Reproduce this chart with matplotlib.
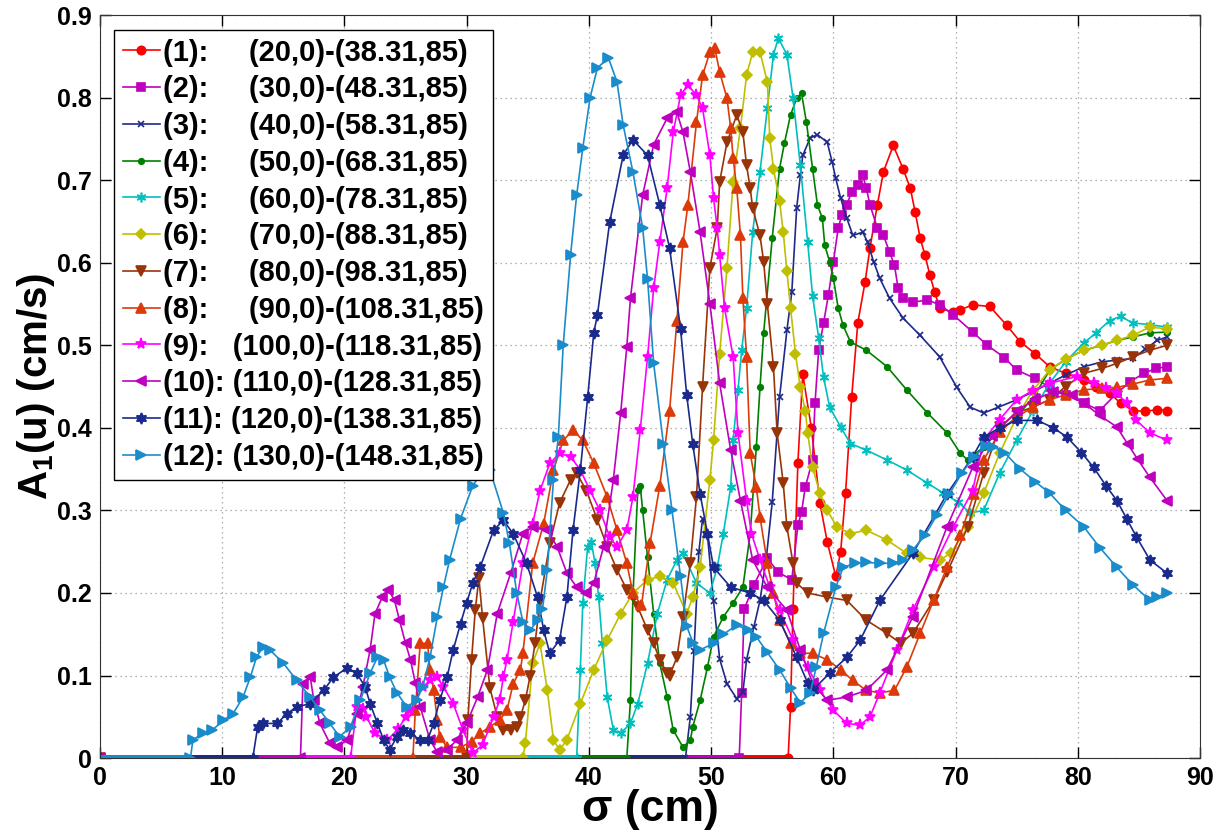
import matplotlib
matplotlib.use('Agg')
import matplotlib.pyplot as plt

plt.rcParams['font.family'] = ['Liberation Sans', 'DejaVu Sans']
plt.rcParams['font.weight'] = 'bold'
plt.rcParams['mathtext.fontset'] = 'custom'
plt.rcParams['mathtext.rm'] = 'Liberation Sans:bold'
plt.rcParams['mathtext.bf'] = 'Liberation Sans:bold'
plt.rcParams['mathtext.default'] = 'bf'

# sigma (cm) / A1 (cm/s), one pair per segment (first two points = zero stretch)
s1 = [0, 56.3, 56.5, 56.7, 57.1, 57.5, 58.2, 58.9, 59.5, 60.2, 60.6, 61.0, 61.5, 62.0, 62.6, 63.0, 63.6,
      64.1, 64.9, 65.7, 66.3, 66.7, 67.1, 67.5, 67.9, 68.3, 68.7, 69.8, 70.4, 71.4, 72.8, 74.2, 75.3,
      76.5, 77.7, 79.0, 80.5, 81.5, 82.6, 83.5, 84.5, 85.5, 86.5, 87.3]
a1 = [0, 0, 0.062, 0.181, 0.358, 0.465, 0.40, 0.309, 0.262, 0.22, 0.25, 0.321, 0.437, 0.527, 0.577, 0.618,
      0.67, 0.71, 0.742, 0.714, 0.69, 0.661, 0.63, 0.609, 0.585, 0.564, 0.545, 0.54, 0.543, 0.549, 0.547,
      0.524, 0.504, 0.49, 0.474, 0.466, 0.458, 0.45, 0.442, 0.43, 0.421, 0.42, 0.422, 0.421]

s2 = [0, 52.3, 52.5, 52.7, 53.5, 54.6, 55.5, 56.6, 57.1, 57.4, 57.7, 58.3, 58.5, 58.8, 59.2, 59.6, 60.0,
      60.4, 60.7, 61.1, 61.5, 62.0, 62.4, 62.7, 63.0, 63.6, 64.1, 64.6, 65.0, 65.3, 65.7, 66.5, 67.7,
      68.7, 69.8, 71.4, 72.6, 74.0, 75.0, 76.5, 77.7, 79.0, 80.5, 81.8, 83.2, 84.3, 85.4, 86.4, 87.3]
a2 = [0, 0, 0.079, 0.18, 0.21, 0.242, 0.225, 0.216, 0.282, 0.298, 0.328, 0.361, 0.43, 0.494, 0.527,
      0.561, 0.601, 0.642, 0.658, 0.67, 0.686, 0.694, 0.706, 0.69, 0.67, 0.642, 0.633, 0.613, 0.597,
      0.569, 0.557, 0.552, 0.555, 0.549, 0.537, 0.516, 0.5, 0.485, 0.47, 0.46, 0.449, 0.44, 0.43, 0.421,
      0.442, 0.456, 0.466, 0.472, 0.474]

s3 = [0, 47.9, 48.3, 48.6, 49.0, 49.3, 49.7, 50.2, 50.7, 51.3, 52.1, 52.6, 52.9, 53.5, 54.0, 54.5, 55.0,
      55.6, 56.2, 56.6, 57.0, 57.3, 57.5, 58.1, 58.7, 59.5, 59.9, 60.2, 60.6, 61.1, 61.6, 62.4, 62.8,
      63.3, 63.8, 64.6, 65.7, 67.1, 68.7, 70.1, 71.2, 72.3, 73.5, 75.0, 76.5, 77.7, 79.0, 80.5, 82.0,
      83.2, 84.5, 85.5, 86.5, 87.3]
a3 = [0, 0, 0.05, 0.13, 0.25, 0.29, 0.27, 0.19, 0.12, 0.09, 0.072, 0.08, 0.119, 0.159, 0.191, 0.24,
      0.31, 0.437, 0.518, 0.564, 0.666, 0.706, 0.73, 0.751, 0.755, 0.746, 0.722, 0.702, 0.678, 0.654,
      0.633, 0.637, 0.625, 0.601, 0.581, 0.557, 0.533, 0.512, 0.486, 0.449, 0.425, 0.418, 0.425, 0.434,
      0.445, 0.454, 0.464, 0.474, 0.48, 0.482, 0.484, 0.495, 0.506, 0.51]

s4 = [0, 43.1, 43.4, 43.6, 44.0, 44.2, 44.4, 44.8, 45.3, 45.8, 46.4, 46.9, 47.7, 48.3, 48.5, 49.1, 49.7,
      50.2, 51.0, 51.8, 52.6, 53.2, 53.7, 54.0, 54.3, 55.0, 55.6, 56.0, 56.5, 57.0, 57.4, 57.8, 58.3,
      58.7, 59.1, 59.3, 59.7, 60.0, 60.4, 60.8, 61.4, 62.7, 64.4, 66.0, 67.7, 69.3, 70.4, 71.0, 72.3,
      73.5, 75.0, 76.5, 77.7, 79.0, 80.5, 82.0, 83.2, 84.5, 85.9, 87.3]
a4 = [0, 0, 0.07, 0.195, 0.325, 0.33, 0.3, 0.243, 0.175, 0.115, 0.074, 0.034, 0.013, 0.022, 0.038, 0.07,
      0.11, 0.147, 0.171, 0.188, 0.207, 0.272, 0.377, 0.449, 0.515, 0.63, 0.714, 0.745, 0.779, 0.799,
      0.805, 0.77, 0.714, 0.67, 0.654, 0.621, 0.601, 0.581, 0.545, 0.524, 0.504, 0.494, 0.474, 0.446,
      0.418, 0.394, 0.369, 0.361, 0.377, 0.395, 0.413, 0.44, 0.47, 0.483, 0.494, 0.5, 0.506, 0.51,
      0.515, 0.516]

s5 = [0, 39.0, 39.3, 39.5, 39.9, 40.2, 40.5, 40.8, 41.1, 41.5, 42.0, 42.6, 43.4, 44.0, 44.8, 45.6, 46.4,
      47.2, 47.7, 48.8, 49.9, 50.5, 51.0, 51.6, 51.8, 52.2, 52.5, 52.9, 53.4, 54.0, 54.6, 55.1, 55.5,
      56.2, 56.7, 57.3, 57.9, 58.3, 58.8, 59.2, 59.7, 60.6, 61.4, 62.7, 64.4, 66.0, 67.7, 69.0, 70.2,
      71.2, 72.3, 73.6, 75.0, 76.3, 77.7, 79.0, 80.5, 81.5, 82.6, 83.5, 84.5, 85.9, 87.3]
a5 = [0, 0, 0.107, 0.188, 0.256, 0.262, 0.236, 0.195, 0.139, 0.074, 0.034, 0.03, 0.042, 0.066, 0.115,
      0.175, 0.216, 0.24, 0.248, 0.212, 0.2, 0.231, 0.272, 0.328, 0.385, 0.446, 0.494, 0.545, 0.637,
      0.71, 0.787, 0.852, 0.872, 0.852, 0.8, 0.718, 0.625, 0.56, 0.509, 0.461, 0.425, 0.401, 0.381,
      0.373, 0.361, 0.349, 0.333, 0.321, 0.31, 0.297, 0.3, 0.345, 0.385, 0.42, 0.454, 0.48, 0.503,
      0.515, 0.53, 0.535, 0.527, 0.525, 0.522]

s6 = [0, 34.6, 34.8, 35.4, 36.0, 36.6, 37.1, 37.6, 38.2, 39.3, 40.4, 41.5, 42.6, 43.6, 44.8, 45.8, 46.9,
      48.0, 48.5, 49.1, 49.9, 50.2, 50.7, 51.3, 51.8, 52.4, 52.9, 53.4, 54.0, 54.6, 54.8, 55.1, 55.6,
      55.9, 56.2, 56.5, 56.9, 57.3, 57.7, 57.9, 58.3, 58.9, 59.5, 60.3, 61.4, 62.7, 64.4, 66.0, 67.1,
      68.7, 69.6, 71.0, 72.3, 73.6, 75.0, 76.3, 77.7, 79.0, 80.5, 82.0, 83.2, 84.5, 85.9, 87.3]
a6 = [0, 0, 0.018, 0.115, 0.139, 0.082, 0.022, 0.01, 0.022, 0.066, 0.107, 0.143, 0.175, 0.2, 0.216,
      0.22, 0.212, 0.175, 0.195, 0.231, 0.337, 0.385, 0.49, 0.594, 0.698, 0.763, 0.827, 0.855, 0.855,
      0.819, 0.751, 0.714, 0.675, 0.637, 0.59, 0.545, 0.49, 0.449, 0.421, 0.394, 0.352, 0.321, 0.3,
      0.28, 0.272, 0.276, 0.264, 0.248, 0.243, 0.24, 0.248, 0.28, 0.321, 0.369, 0.413, 0.445, 0.47,
      0.483, 0.494, 0.5, 0.506, 0.512, 0.522, 0.52]

s7 = [0, 30.0, 30.1, 30.4, 30.7, 31.0, 31.3, 31.9, 32.5, 33.0, 33.6, 34.1, 34.4, 34.8, 35.2, 35.6, 36.0,
      36.8, 37.6, 38.5, 39.0, 39.8, 40.7, 41.5, 42.3, 43.1, 44.0, 44.8, 45.3, 45.8, 46.4, 46.6, 47.2,
      47.7, 48.3, 48.8, 49.3, 49.9, 50.5, 50.7, 51.3, 52.1, 52.6, 52.9, 53.2, 53.4, 54.0, 54.3, 54.6,
      55.1, 55.4, 55.9, 56.2, 56.7, 57.0, 57.9, 59.5, 61.1, 62.7, 64.4, 65.5, 66.5, 68.2, 69.3, 71.0,
      72.3, 73.6, 75.0, 76.3, 77.7, 79.0, 80.5, 82.0, 83.2, 84.5, 85.9, 87.3]
a7 = [0, 0, 0.046, 0.119, 0.179, 0.218, 0.17, 0.085, 0.05, 0.034, 0.034, 0.038, 0.05, 0.07, 0.1, 0.14,
      0.19, 0.26, 0.309, 0.337, 0.345, 0.324, 0.288, 0.256, 0.228, 0.204, 0.183, 0.155, 0.139, 0.119,
      0.103, 0.1, 0.122, 0.171, 0.236, 0.316, 0.45, 0.594, 0.642, 0.698, 0.746, 0.779, 0.758, 0.718,
      0.69, 0.666, 0.633, 0.601, 0.55, 0.474, 0.394, 0.333, 0.28, 0.236, 0.212, 0.2, 0.195, 0.191,
      0.167, 0.151, 0.139, 0.151, 0.191, 0.225, 0.28, 0.345, 0.401, 0.418, 0.425, 0.434, 0.45, 0.466,
      0.472, 0.478, 0.486, 0.494, 0.5]

s8 = [0, 25.6, 25.8, 26.2, 26.8, 27.0, 27.3, 27.6, 27.8, 28.4, 29.5, 30.4, 31.1, 31.9, 32.7, 33.3, 33.8,
      34.4, 34.6, 35.4, 36.3, 37.1, 37.9, 38.7, 39.5, 40.4, 41.5, 42.3, 43.1, 43.6, 44.3, 45.0, 45.8,
      46.6, 47.2, 47.7, 48.1, 48.8, 49.3, 49.9, 50.3, 50.7, 51.3, 51.6, 51.8, 52.1, 52.4, 52.6, 52.9,
      53.2, 53.7, 54.0, 54.6, 55.1, 55.6, 56.5, 57.3, 58.3, 59.5, 60.6, 61.6, 62.7, 63.8, 65.0, 66.0,
      67.1, 68.2, 69.3, 70.4, 71.5, 72.3, 73.6, 75.0, 76.3, 77.7, 79.0, 80.5, 82.0, 83.2, 84.5, 85.9,
      87.3]
a8 = [0, 0, 0.058, 0.139, 0.139, 0.107, 0.082, 0.046, 0.026, 0.013, 0.013, 0.02, 0.03, 0.038, 0.046,
      0.058, 0.09, 0.107, 0.127, 0.236, 0.284, 0.349, 0.385, 0.397, 0.385, 0.357, 0.316, 0.276, 0.236,
      0.2, 0.185, 0.26, 0.33, 0.42, 0.53, 0.625, 0.67, 0.77, 0.827, 0.855, 0.86, 0.831, 0.799, 0.763,
      0.727, 0.69, 0.633, 0.557, 0.486, 0.369, 0.328, 0.292, 0.236, 0.2, 0.167, 0.139, 0.127, 0.127,
      0.119, 0.107, 0.094, 0.082, 0.079, 0.082, 0.11, 0.151, 0.191, 0.231, 0.27, 0.32, 0.361, 0.395,
      0.413, 0.425, 0.434, 0.44, 0.446, 0.448, 0.449, 0.453, 0.458, 0.46]

s9 = [0, 20.5, 21.0, 21.5, 21.8, 22.5, 23.5, 24.4, 25.0, 25.4, 26.4, 27.0, 27.6, 28.1, 28.9, 29.7, 30.5,
      31.3, 32.2, 32.7, 33.0, 33.3, 33.8, 34.6, 35.4, 36.0, 36.8, 37.6, 38.5, 39.3, 40.1, 40.9, 41.7,
      42.3, 43.1, 43.6, 44.2, 44.8, 45.3, 45.8, 46.4, 46.9, 47.5, 48.1, 48.8, 49.3, 49.9, 50.2, 50.5,
      50.7, 51.1, 51.8, 52.2, 52.9, 53.3, 54.0, 54.8, 55.6, 56.7, 57.9, 58.9, 60.0, 61.1, 62.2, 63.0,
      63.8, 65.2, 66.5, 68.2, 69.8, 71.4, 72.3, 73.6, 75.0, 76.3, 77.7, 79.9, 81.3, 82.3, 83.2, 84.0,
      84.8, 85.9, 87.3]
a9 = [0, 0, 0.062, 0.06, 0.05, 0.03, 0.022, 0.035, 0.05, 0.058, 0.086, 0.094, 0.098, 0.086, 0.066,
      0.034, 0.006, 0.016, 0.05, 0.07, 0.098, 0.119, 0.165, 0.236, 0.284, 0.324, 0.357, 0.369, 0.365,
      0.349, 0.324, 0.3, 0.268, 0.256, 0.276, 0.316, 0.397, 0.486, 0.569, 0.625, 0.69, 0.758, 0.803,
      0.815, 0.803, 0.787, 0.73, 0.678, 0.642, 0.609, 0.545, 0.486, 0.394, 0.312, 0.272, 0.24, 0.207,
      0.179, 0.143, 0.11, 0.082, 0.058, 0.042, 0.04, 0.05, 0.079, 0.131, 0.179, 0.231, 0.28, 0.324,
      0.385, 0.41, 0.434, 0.445, 0.454, 0.462, 0.454, 0.448, 0.442, 0.43, 0.409, 0.394, 0.385]

s10 = [0, 16.4, 16.6, 17.2, 17.5, 18.0, 18.8, 19.4, 20.2, 21.0, 21.5, 22.1, 22.5, 23.1, 23.6, 24.1, 24.5,
       25.0, 25.4, 25.8, 26.2, 27.0, 27.6, 28.4, 29.2, 30.0, 30.9, 31.7, 32.5, 33.6, 34.6, 35.4, 36.6,
       37.4, 38.2, 39.0, 39.8, 40.4, 41.2, 42.0, 42.6, 43.1, 43.4, 44.4, 45.3, 46.4, 47.2, 47.7, 48.3,
       49.1, 49.9, 50.7, 51.6, 52.4, 53.4, 54.6, 56.2, 57.3, 58.3, 59.5, 61.1, 62.7, 64.4, 66.5, 69.3,
       71.4, 73.0, 75.0, 76.5, 78.0, 79.5, 80.5, 81.8, 83.2, 84.1, 84.9, 85.9, 87.3]
a10 = [0, 0, 0.09, 0.098, 0.07, 0.042, 0.018, 0.013, 0.022, 0.054, 0.086, 0.131, 0.175, 0.195, 0.204,
       0.191, 0.167, 0.139, 0.119, 0.091, 0.062, 0.022, 0.007, 0.01, 0.022, 0.042, 0.074, 0.107, 0.175,
       0.224, 0.272, 0.28, 0.276, 0.256, 0.224, 0.207, 0.2, 0.212, 0.256, 0.337, 0.418, 0.498, 0.557,
       0.682, 0.743, 0.775, 0.782, 0.758, 0.71, 0.637, 0.55, 0.454, 0.373, 0.312, 0.24, 0.207, 0.179,
       0.131, 0.091, 0.07, 0.074, 0.082, 0.107, 0.171, 0.28, 0.352, 0.39, 0.42, 0.435, 0.443, 0.44,
       0.43, 0.415, 0.401, 0.38, 0.362, 0.34, 0.312]

s11 = [0, 12.5, 12.9, 13.3, 14.5, 15.3, 16.1, 17.2, 18.3, 19.1, 20.2, 21.0, 21.7, 22.1, 22.7, 23.2, 23.7,
       24.3, 24.8, 25.4, 26.2, 26.8, 27.3, 27.8, 28.4, 28.9, 29.5, 30.0, 30.5, 31.1, 32.2, 33.0, 33.8,
       34.9, 35.8, 36.3, 36.8, 37.6, 38.2, 38.7, 39.3, 39.9, 40.4, 40.7, 41.7, 42.8, 43.6, 44.8, 45.8,
       46.6, 47.5, 48.0, 48.5, 49.1, 49.7, 50.2, 51.6, 53.2, 54.3, 55.6, 57.0, 57.9, 58.3, 59.7, 61.1,
       62.2, 63.8, 66.5, 69.3, 71.4, 72.3, 73.6, 75.0, 76.7, 78.0, 79.1, 80.3, 81.3, 82.3, 83.2, 84.0,
       84.8, 85.9, 87.3]
a11 = [0, 0, 0.038, 0.042, 0.042, 0.054, 0.062, 0.066, 0.082, 0.098, 0.109, 0.103, 0.086, 0.066, 0.042,
       0.022, 0.01, 0.026, 0.034, 0.03, 0.022, 0.022, 0.042, 0.07, 0.098, 0.131, 0.163, 0.188, 0.212,
       0.231, 0.276, 0.288, 0.272, 0.236, 0.195, 0.155, 0.127, 0.143, 0.195, 0.276, 0.349, 0.437, 0.515,
       0.537, 0.649, 0.73, 0.749, 0.73, 0.67, 0.618, 0.52, 0.44, 0.38, 0.32, 0.272, 0.231, 0.207, 0.2,
       0.191, 0.167, 0.122, 0.091, 0.082, 0.103, 0.122, 0.143, 0.191, 0.248, 0.32, 0.365, 0.389, 0.4,
       0.409, 0.409, 0.4, 0.389, 0.37, 0.352, 0.33, 0.312, 0.29, 0.268, 0.24, 0.224]

s12 = [0, 7.4, 7.6, 8.4, 9.2, 10.1, 10.9, 11.7, 12.3, 12.8, 13.3, 13.9, 15.0, 16.1, 17.2, 18.0, 18.8,
       19.6, 20.5, 21.3, 22.1, 22.7, 23.2, 23.7, 24.3, 25.1, 25.9, 26.4, 27.0, 27.6, 28.1, 28.6, 29.5,
       30.5, 31.2, 31.9, 33.0, 33.5, 34.1, 34.6, 35.2, 35.8, 36.2, 36.6, 37.1, 37.5, 37.9, 38.5, 39.0,
       39.5, 40.1, 40.7, 41.6, 42.3, 42.8, 43.6, 44.4, 44.8, 45.3, 46.1, 46.8, 47.5, 48.0, 48.5, 49.1,
       50.2, 51.0, 52.1, 53.0, 53.7, 54.6, 55.6, 56.5, 57.3, 58.1, 58.6, 59.2, 60.2, 60.8, 61.8, 62.7,
       63.8, 64.9, 65.7, 66.5, 67.5, 68.5, 69.5, 70.5, 71.5, 72.5, 73.1, 74.0, 75.3, 76.5, 77.7, 79.0,
       80.5, 81.8, 83.2, 84.5, 85.9, 86.5, 87.3]
a12 = [0, 0, 0.022, 0.03, 0.034, 0.046, 0.054, 0.074, 0.098, 0.122, 0.134, 0.131, 0.115, 0.094, 0.074,
       0.058, 0.042, 0.026, 0.038, 0.07, 0.103, 0.122, 0.119, 0.098, 0.079, 0.062, 0.07, 0.086, 0.122,
       0.171, 0.207, 0.24, 0.29, 0.33, 0.345, 0.349, 0.297, 0.26, 0.2, 0.165, 0.155, 0.167, 0.18, 0.228,
       0.337, 0.389, 0.5, 0.609, 0.682, 0.739, 0.8, 0.836, 0.848, 0.819, 0.767, 0.71, 0.642, 0.58,
       0.478, 0.38, 0.3, 0.22, 0.16, 0.14, 0.131, 0.139, 0.15, 0.161, 0.155, 0.147, 0.128, 0.107, 0.085,
       0.067, 0.079, 0.11, 0.151, 0.207, 0.231, 0.236, 0.237, 0.236, 0.236, 0.24, 0.252, 0.27, 0.295,
       0.32, 0.345, 0.365, 0.378, 0.377, 0.37, 0.35, 0.335, 0.321, 0.3, 0.28, 0.255, 0.231, 0.21,
       0.191, 0.195, 0.2]

labels = ['(1):     (20,0)-(38.31,85)', '(2):     (30,0)-(48.31,85)', '(3):     (40,0)-(58.31,85)',
          '(4):     (50,0)-(68.31,85)', '(5):     (60,0)-(78.31,85)', '(6):     (70,0)-(88.31,85)',
          '(7):     (80,0)-(98.31,85)', '(8):     (90,0)-(108.31,85)', '(9):   (100,0)-(118.31,85)',
          '(10): (110,0)-(128.31,85)', '(11): (120,0)-(138.31,85)', '(12): (130,0)-(148.31,85)']

sigmas = [s1, s2, s3, s4, s5, s6, s7, s8, s9, s10, s11, s12]
amps = [a1, a2, a3, a4, a5, a6, a7, a8, a9, a10, a11, a12]

colors = ['#ff0000', '#bf00bf', '#1f2a88', '#008000', '#00bfbf', '#bfbf00',
          '#993308', '#dd3a0a', '#ff00ff', '#bf00bf', '#1a2a8c', '#1a8ccc']
markers = ['o', 's', 'x', 'o', (6, 2, 0), 'D', 'v', '^', '*', '<', (6, 1, 0), '>']
msizes = [6, 6, 5, 4, 7, 5, 7, 7, 8, 7, 8, 7]

fig = plt.figure(figsize=(12.27, 8.34), dpi=100)
ax = fig.add_axes([0.0815, 0.091, 0.8965, 0.891])

for s, a, c, m, ms, lab in zip(sigmas, amps, colors, markers, msizes, labels):
    # flat zero stretch before each curve takes off
    ax.plot(s[:2], a[:2], '-', color=c, lw=5, solid_capstyle='butt')
    ax.plot(s, a, '-', color=c, lw=1.2, marker=m, ms=ms, mfc=c, mec=c, mew=1.2, label=lab)

ax.set_xlim(0, 90)
ax.set_ylim(0, 0.9)
ax.set_xticks(range(0, 91, 10))
ax.set_yticks([i / 10 for i in range(10)])
ax.set_yticklabels(['0'] + ['0.%d' % i for i in range(1, 10)])
ax.tick_params(direction='in', length=8, width=1, top=True, right=True, labelsize=18, pad=6)
for lab in ax.get_xticklabels() + ax.get_yticklabels():
    lab.set_fontweight('bold')
ax.grid(True, color='#999999', linestyle=(0, (1, 3)), linewidth=0.9)
for sp in ax.spines.values():
    sp.set_color('#333333')

ax.set_xlabel('σ (cm)', fontsize=32, fontweight='bold', labelpad=-1)
ax.set_ylabel('A$_1$(u) (cm/s)', fontsize=29, fontweight='bold', labelpad=0)

leg = ax.legend(loc='upper left', bbox_to_anchor=(0.013, 0.98), prop={'weight': 'bold', 'size': 21},
                handlelength=1.25, handletextpad=0.12, labelspacing=0.3, borderpad=0.3,
                borderaxespad=0, fancybox=False, framealpha=1, edgecolor='black')
leg.get_frame().set_linewidth(1.0)

fig.savefig('out.png', dpi=100)
